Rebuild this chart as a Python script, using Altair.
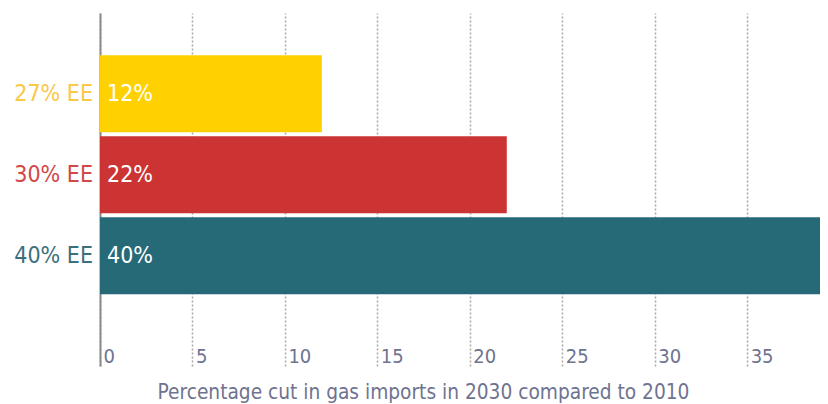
import altair as alt
import pandas as pd

categories = ["27% EE", "30% EE", "40% EE"]
values = [12, 22, 40]
bar_labels = ["12%", "22%", "40%"]
bar_colors = ["#ffd100", "#cc3333", "#266a78"]
label_colors = ["#f8c848", "#d04848", "#3c6f7d"]
tick_values = [0, 5, 10, 15, 20, 25, 30, 35]
x_title = "Percentage cut in gas imports in 2030 compared to 2010"

df = pd.DataFrame({
    "cat": categories,
    "val": values,
    "lab": bar_labels,
    "bcol": bar_colors,
    "lcol": label_colors,
})

FONT = "DejaVu Sans Condensed, sans-serif"

yscale = alt.Scale(domain=categories, paddingInner=0.05, paddingOuter=0.704, align=0.37)
xscale = alt.Scale(domain=[0, 38.94], nice=False, clamp=True)

bars = alt.Chart(df).mark_bar(clip=True).encode(
    x=alt.X("val:Q", scale=xscale,
            axis=alt.Axis(values=tick_values, title=x_title, grid=True,
                          gridDash=[2, 2], gridColor="#a8a8a8", gridWidth=1.5,
                          domain=False, ticks=False,
                          labelAlign="left", labelBaseline="alphabetic",
                          labelPadding=-4, labelOffset=3, labelFlush=False,
                          labelFont=FONT, labelFontSize=20, labelColor="#6e7390",
                          titleFont=FONT, titleFontSize=20.7, titleColor="#6e7390",
                          titleFontWeight="normal", titleBaseline="alphabetic",
                          titleAlign="center", titleAnchor="start",
                          titleX=323, titleY=32)),
    y=alt.Y("cat:N", scale=yscale,
            axis=alt.Axis(title=None, labels=False, ticks=False, grid=False,
                          domain=True, domainColor="#8a8a8a", domainWidth=2)),
    color=alt.Color("bcol:N", scale=None),
)

bar_text = alt.Chart(df).mark_text(align="left", baseline="middle", font=FONT,
                                   fontSize=23, color="white").encode(
    x=alt.value(7),
    y=alt.Y("cat:N", scale=yscale),
    text="lab:N",
)

cat_text = alt.Chart(df).mark_text(align="right", baseline="middle", font=FONT,
                                   fontSize=23).encode(
    x=alt.value(-7),
    y=alt.Y("cat:N", scale=yscale),
    text="cat:N",
    color=alt.Color("lcol:N", scale=None),
)

chart = alt.layer(bars, bar_text, cat_text).properties(
    width=720,
    height=353,
    background="white",
    autosize=alt.AutoSizeParams(type="none"),
    padding={"left": 92, "top": 5, "right": 0, "bottom": 38},
).configure_view(strokeWidth=0, stroke="transparent")

chart.save("out.html", embed_options={"renderer": "svg", "actions": False})
